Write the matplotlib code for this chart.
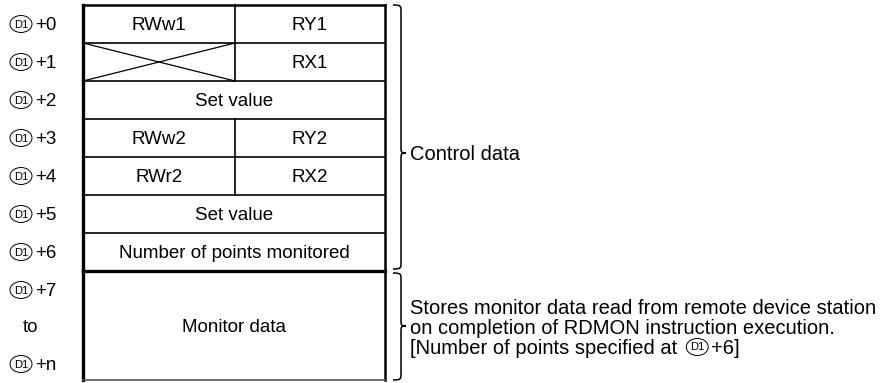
import matplotlib
matplotlib.use("Agg")
import matplotlib.pyplot as plt
from matplotlib.patches import Ellipse, PathPatch
from matplotlib.path import Path

plt.rcParams['font.family'] = ['Liberation Sans', 'DejaVu Sans']

# ---- data ----
row_offsets = ["+0", "+1", "+2", "+3", "+4", "+5", "+6"]
left_cells = ["RWw1", None, "Set value", "RWw2", "RWr2", "Set value", "Number of points monitored"]
right_cells = ["RY1", "RX1", None, "RY2", "RX2", None, None]
monitor_labels = ["+7", "to", "+n"]
monitor_text = "Monitor data"
control_note = "Control data"
monitor_note = ["Stores monitor data read from remote device station",
                "on completion of RDMON instruction execution.",
                "[Number of points specified at"]
monitor_note_tail = "+6]"
device = "D1"

W, H = 886, 383
fig = plt.figure(figsize=(W / 100, H / 100), dpi=100)
ax = fig.add_axes([0, 0, 1, 1])
ax.set_xlim(0, W)
ax.set_ylim(H, 0)
ax.axis("off")

x0, xm, x1 = 83, 235, 385
y0, rh = 5, 38
ybot = 380
fs = 13.5
fsn = 14.5
dy = 1.5


def dlabel(xc, yc, txt, size=fs):
    ax.add_patch(Ellipse((xc, yc), 22, 17, fill=False, lw=0.7, color="black"))
    ax.text(xc, yc + 0.5, device, fontsize=8, ha="center", va="center")
    ax.text(xc + 14, yc + dy, txt, fontsize=size, ha="left", va="center")


n = len(row_offsets)
ysplit = y0 + n * rh
for i in range(n):
    yt = y0 + i * rh
    yc = yt + rh / 2
    dlabel(21, yc, row_offsets[i])
    if i > 0:
        ax.plot([x0, x1], [yt, yt], color="black", lw=1.2)
    if right_cells[i] is not None:
        ax.plot([xm, xm], [yt, yt + rh], color="black", lw=1.2)
        ax.text((xm + x1) / 2, yc + dy, right_cells[i], fontsize=fs, ha="center", va="center")
        if left_cells[i] is None:
            ax.plot([x0, xm], [yt, yt + rh], color="black", lw=0.9)
            ax.plot([x0, xm], [yt + rh, yt], color="black", lw=0.9)
        else:
            ax.text((x0 + xm) / 2, yc + dy, left_cells[i], fontsize=fs, ha="center", va="center")
    else:
        ax.text((x0 + x1) / 2, yc + dy, left_cells[i], fontsize=fs, ha="center", va="center")

# thick separator
ax.plot([x0, x1], [ysplit, ysplit], color="black", lw=2.4)
# outer borders
ax.plot([x0, x0], [y0, ybot], color="black", lw=2.4)
ax.plot([x1, x1], [y0, ybot], color="black", lw=1.8)
ax.plot([x0, x1], [y0, y0], color="black", lw=1.8)
ax.plot([x0, x1], [ybot, ybot], color="#555555", lw=1.2)

# monitor block
ymid = (ysplit + ybot) / 2
ax.text((x0 + x1) / 2, ymid + dy, monitor_text, fontsize=fs, ha="center", va="center")
mon_y = [ysplit + 19, ymid, ybot - 16]
for lab, yy in zip(monitor_labels, mon_y):
    if lab == "to":
        ax.text(31, yy + dy, lab, fontsize=fs, ha="center", va="center")
    else:
        dlabel(21, yy, lab)


def brace(xl, xline, xtip, ya, yb, ytip):
    c = 6
    verts = [(xl, ya),
             (xline, ya), (xline, ya + 1), (xline, ya + c),
             (xline, ytip - c),
             (xline, ytip - 1), (xline, ytip), (xtip, ytip),
             (xline, ytip), (xline, ytip + 1), (xline, ytip + c),
             (xline, yb - c),
             (xline, yb - 1), (xline, yb), (xl, yb)]
    codes = [Path.MOVETO,
             Path.CURVE4, Path.CURVE4, Path.CURVE4,
             Path.LINETO,
             Path.CURVE4, Path.CURVE4, Path.CURVE4,
             Path.CURVE4, Path.CURVE4, Path.CURVE4,
             Path.LINETO,
             Path.CURVE4, Path.CURVE4, Path.CURVE4]
    ax.add_patch(PathPatch(Path(verts, codes), fill=False, lw=1.1, color="black"))


brace(393, 401, 406, y0, ysplit - 2, 153)
brace(393, 401, 406, ysplit + 2, ybot, 326)

ax.text(410, 153 + dy, control_note, fontsize=fsn, ha="left", va="center")
note_y = [307, 327, 347]
for t, yy in zip(monitor_note, note_y):
    ax.text(410, yy + dy, t, fontsize=fsn, ha="left", va="center")
t = ax.text(410, note_y[2] + dy, monitor_note[2], fontsize=fsn, ha="left", va="center", alpha=0)
fig.canvas.draw()
bb = t.get_window_extent()
xr = bb.x1
dlabel(xr + 20, note_y[2], monitor_note_tail, fsn)

fig.savefig("out.png", dpi=100)
